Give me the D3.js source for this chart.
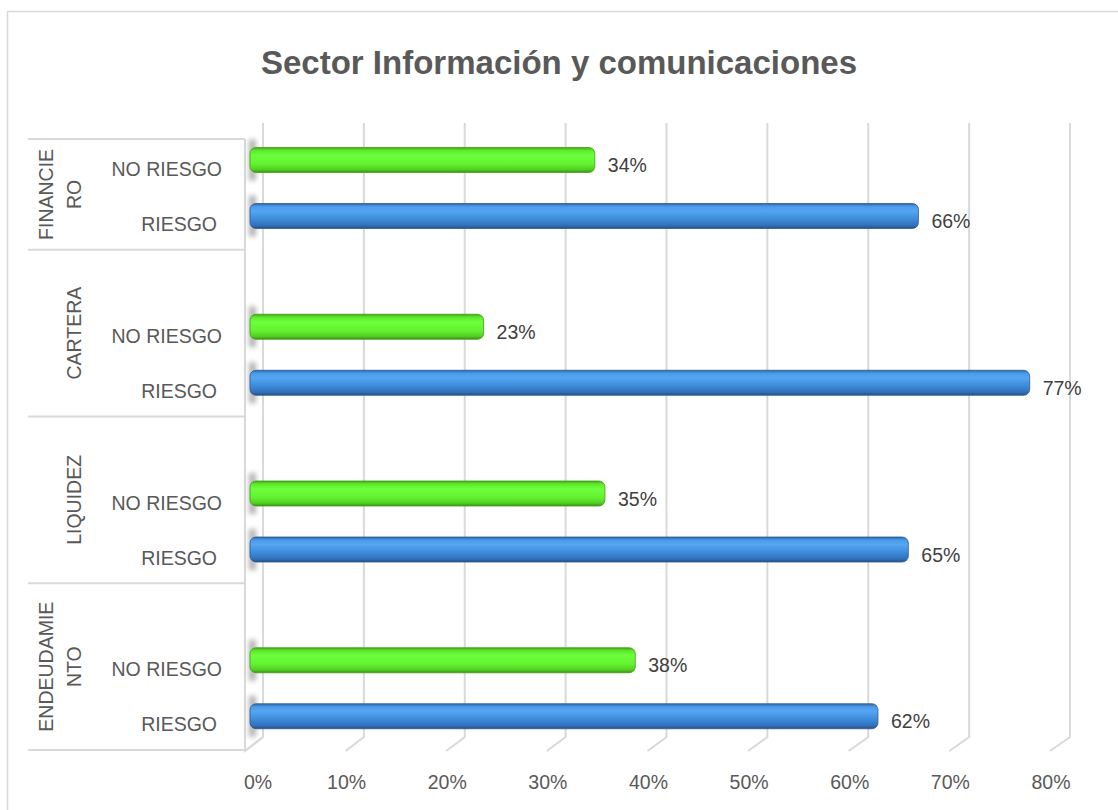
<!DOCTYPE html>
<html>
<head>
<meta charset="utf-8">
<script src="https://cdn.jsdelivr.net/npm/d3@7"></script>
<style>
  body { margin: 0; background: #fff; }
  text { font-family: "Liberation Sans", Arial, sans-serif; }
</style>
</head>
<body>
<div id="chart"></div>
<script>
// data
var groups = ["FINANCIERO", "CARTERA", "LIQUIDEZ", "ENDEUDAMIENTO"];
var groupLabels = [["FINANCIE", "RO"], ["CARTERA"], ["LIQUIDEZ"], ["ENDEUDAMIE", "NTO"]];
var series = ["NO RIESGO", "RIESGO"];
var noRiesgo = [0.34, 0.23, 0.35, 0.38];
var riesgo = [0.66, 0.77, 0.65, 0.62];
var ticks = [0, 0.1, 0.2, 0.3, 0.4, 0.5, 0.6, 0.7, 0.8];

var W = 1118, H = 810;
var svg = d3.select('#chart').append('svg').attr('width', W).attr('height', H);

// scales (3d look: back wall, front edge, bars in between)
var xBack = d3.scaleLinear().domain([0, 0.8]).range([263, 1070]),
    xFront = d3.scaleLinear().domain([0, 0.8]).range([245, 1050]),
    xBar = d3.scaleLinear().domain([0, 0.8]).range([251, 1060]);
var yGroup = d3.scaleBand().domain(groups).range([83, 750]);
var ySub = d3.scalePoint().domain(series).range([77, 133]);
var backTop = 123, backBottom = 737, frontTop = 139, frontBottom = 751;
var barH = 25;
var fs = '19.5px';

var defs = svg.append('defs');
function grad(id, stops) {
  var g = defs.append('linearGradient').attr('id', id).attr('x1', 0).attr('y1', 0).attr('x2', 0).attr('y2', 1);
  stops.forEach(function(s) { g.append('stop').attr('offset', s[0]).attr('stop-color', s[1]); });
}
grad('gBlue', [[0, '#2d66a6'], [0.12, '#4a9ae8'], [0.3, '#55a6f2'], [0.65, '#3b89d8'], [0.88, '#3270b8'], [1, '#264f80']]);
grad('gGreen', [[0, '#3fa817'], [0.12, '#5fe82c'], [0.3, '#6cff3a'], [0.65, '#64f332'], [0.88, '#52d022'], [1, '#3a9214']]);
defs.append('filter').attr('id', 'blur').attr('x', '-100%').attr('y', '-50%').attr('width', '300%').attr('height', '200%')
  .append('feGaussianBlur').attr('stdDeviation', 2.5);

// outer border
svg.append('rect').attr('x', 7.5).attr('y', 11.5).attr('width', 1130).attr('height', 820)
  .attr('fill', 'none').attr('stroke', '#d9d9d9').attr('stroke-width', 1.5);

// title
svg.append('text').attr('x', 559).attr('y', 74).attr('text-anchor', 'middle')
  .style('font-size', '33px').style('font-weight', 'bold').style('fill', '#595959')
  .text('Sector Información y comunicaciones');

var grid = svg.append('g').attr('stroke', '#d9d9d9').attr('stroke-width', 2).attr('fill', 'none');
// gridlines: vertical on back wall, diagonal to front on floor
grid.selectAll('.gl').data(ticks).enter().append('path').attr('class', 'gl')
  .attr('d', function(t) {
    return 'M' + xBack(t) + ',' + backTop + 'V' + backBottom + 'L' + xFront(t) + ',' + frontBottom;
  });
// left wall front edge
grid.append('path').attr('d', 'M' + xFront(0) + ',' + frontTop + 'V' + frontBottom + 'L' + xBack(0) + ',' + backBottom);

// category table
var tableX = 28;
var lines = [frontTop].concat(groups.map(function(g) { return yGroup(g) + yGroup.bandwidth(); }));
grid.selectAll('.hl').data(lines).enter().append('line').attr('class', 'hl')
  .attr('x1', tableX).attr('x2', xFront(0)).attr('y1', function(d) { return d; }).attr('y2', function(d) { return d; });

// group labels (rotated)
groups.forEach(function(g, i) {
  var top = Math.max(yGroup(g), frontTop), bottom = yGroup(g) + yGroup.bandwidth();
  var cy = (top + bottom) / 2;
  var parts = groupLabels[i];
  parts.forEach(function(p, k) {
    var cx = 74 - (parts.length - 1 - k) * 28;
    svg.append('text').attr('transform', 'translate(' + (cx + 7) + ',' + cy + ') rotate(-90)')
      .attr('text-anchor', 'middle').style('font-size', fs).style('fill', '#595959').text(p);
  });
});

// bars
var rows = [];
groups.forEach(function(g, i) {
  rows.push({group: g, s: 'NO RIESGO', v: noRiesgo[i]});
  rows.push({group: g, s: 'RIESGO', v: riesgo[i]});
});
function cy(d) { return yGroup(d.group) + ySub(d.s); }

// sub labels
svg.selectAll('.sub').data(rows).enter().append('text').attr('class', 'sub')
  .attr('x', function(d) { return d.s === 'NO RIESGO' ? 222 : 217; })
  .attr('y', function(d) { return cy(d) + (d.s === 'NO RIESGO' ? 16 : 15); })
  .attr('text-anchor', 'end').style('font-size', fs).style('fill', '#595959')
  .text(function(d) { return d.s; });

// shadows on the wall
svg.selectAll('.sh').data(rows).enter().append('rect').attr('class', 'sh')
  .attr('x', xBar(0) - 2).attr('width', 7)
  .attr('y', function(d) { return cy(d) - barH / 2 - 8; }).attr('height', barH + 16)
  .attr('fill', '#777').attr('opacity', 0.55).attr('filter', 'url(#blur)');

svg.selectAll('.bar').data(rows).enter().append('rect').attr('class', 'bar')
  .attr('x', xBar(0) - 1).attr('y', function(d) { return cy(d) - barH / 2; })
  .attr('width', function(d) { return xBar(d.v) - xBar(0) + 1; }).attr('height', barH)
  .attr('rx', 6).attr('ry', 6)
  .attr('fill', function(d) { return d.s === 'RIESGO' ? 'url(#gBlue)' : 'url(#gGreen)'; })
  .attr('stroke', function(d) { return d.s === 'RIESGO' ? '#2a5b92' : '#3f9e18'; }).attr('stroke-width', 0.8);

// value labels
svg.selectAll('.val').data(rows).enter().append('text').attr('class', 'val')
  .attr('x', function(d) { return xBar(d.v) + 13; })
  .attr('y', function(d) { return cy(d) + 12; })
  .style('font-size', fs).style('fill', '#404040')
  .text(function(d) { return d3.format('.0%')(d.v); });

// x axis labels
svg.selectAll('.tick').data(ticks).enter().append('text').attr('class', 'tick')
  .attr('x', function(t) { return xFront(t) + (t === 0 ? 13 : 1); }).attr('y', 789)
  .attr('text-anchor', 'middle').style('font-size', fs).style('fill', '#595959')
  .text(function(t) { return d3.format('.0%')(t); });
</script>
</body>
</html>
